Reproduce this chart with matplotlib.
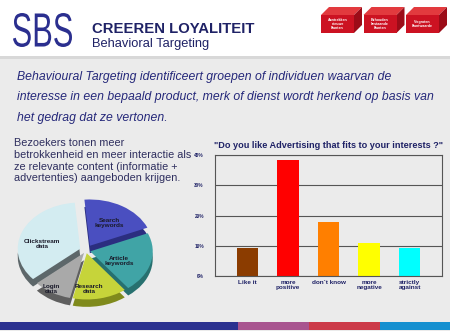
import numpy as np
import matplotlib.pyplot as plt
from matplotlib.patches import Rectangle, Polygon, PathPatch
from matplotlib.textpath import TextPath
from matplotlib.transforms import Affine2D
from matplotlib.font_manager import FontProperties

plt.rcParams['font.family'] = ['Liberation Sans', 'DejaVu Sans']

# --- bar chart data ---
categories = ['Like it', 'more\npositive', 'don`t know', 'more\nnegative', 'strictly\nagainst']
shares = [9.1, 38.3, 17.9, 10.8, 9.2]
bar_colors = ['#8b3c00', '#ff0000', '#ff7f00', '#ffff00', '#00ffff']
y_ticks = [0, 10, 20, 30, 40]
chart_title = '"Do you like Advertising that fits to your interests ?"'

# --- pie data (counter-clockwise from the top) ---
pie_labels = ['Clickstream\ndata', 'Login\ndata', 'Research\ndata', 'Article\nkeywords', 'Search\nkeywords']
pie_values = [35, 10, 14, 21, 20]
pie_colors = ['#d3ecf1', '#a9a9a9', '#c6d43a', '#40a4a6', '#4a4fc0']
pie_sides = ['#5d676a', '#5f5f5f', '#7f8a1c', '#27706f', '#2b2e80']
pie_explode = [0.1, 0.06, 0.06, 0.07, 0.12]
# label anchor points inside the pie (pie units)
label_xy = [(-0.70, 0.15), (-0.56, -0.83), (0.05, -0.83), (0.53, -0.22), (0.37, 0.59)]

# --- slide texts ---
header_boxes = ['Aantrekken\nnieuwe\nklanten', 'Behouden\nbestaande\nklanten', 'Vergroten\nklantwaarde']
intro_lines = ['Behavioural Targeting identificeert groepen of individuen waarvan de',
               'interesse in een bepaald product, merk of dienst wordt herkend op basis van',
               'het gedrag dat ze vertonen.']
side_lines = ['Bezoekers tonen meer',
              'betrokkenheid en meer interactie als',
              'ze relevante content (informatie +',
              'advertenties) aangeboden krijgen.']
stripe_colors = ['#2b3190', '#a8548f', '#cc3a48', '#1590d0']
stripe_edges = [0, 238, 309, 380, 450]

NAVY = '#1f2266'
W, H = 450, 331


def box(x0, y0, x1, y1):
    # pixel box (top-left origin) -> figure fraction rect
    return [x0 / W, 1 - y1 / H, (x1 - x0) / W, (y1 - y0) / H]


fig = plt.figure(figsize=(W / 100, H / 100), dpi=100, facecolor='#ebebeb')

# background / decoration layer in pixel coordinates
bg = fig.add_axes([0, 0, 1, 1], zorder=0)
bg.set_xlim(0, W)
bg.set_ylim(H, 0)
bg.axis('off')

bg.add_patch(Rectangle((0, 0), W, 56, color='white', lw=0))
bg.add_patch(Rectangle((0, 56), W, 3, color='#d8d8d8', lw=0))

# SBS logo squeezed into its box
tp = TextPath((0, 0), 'SBS', size=1, prop=FontProperties(family='Liberation Sans'))
bb = tp.get_extents()
tr = Affine2D().translate(-bb.x0, -bb.y0).scale(59 / bb.width, -34 / bb.height).translate(13, 47)
bg.add_patch(PathPatch(tr.transform_path(tp), fc='#2b2f8f', ec='none'))

bg.text(92, 33.3, 'CREEREN LOYALITEIT', fontsize=10.7, weight='bold', color=NAVY, va='baseline')
bg.text(92, 47, 'Behavioral Targeting', fontsize=9.3, color=NAVY, va='baseline')

# red 3D boxes top right
for i, txt in enumerate(header_boxes):
    x0 = 321 + i * 42.5
    bg.add_patch(Polygon([(x0, 15), (x0 + 33, 15), (x0 + 41, 7), (x0 + 8, 7)], color='#e23a3e', lw=0))
    bg.add_patch(Polygon([(x0 + 33, 15), (x0 + 41, 7), (x0 + 41, 25), (x0 + 33, 33)], color='#9c0c18', lw=0))
    bg.add_patch(Rectangle((x0, 15), 33, 18, color='#cc1222', lw=0))
    bg.text(x0 + 16.5, 24, txt, fontsize=2.6, color='white', weight='bold',
            ha='center', va='center', linespacing=1.0)

for k, line in enumerate(intro_lines):
    bg.text(17, 80 + k * 20.3, line, fontsize=8.85, style='italic', color='#25287a', va='baseline')

for k, line in enumerate(side_lines):
    bg.text(14, 146 + k * 11.8, line, fontsize=7.8, color='#2e2e5e', va='baseline')

for c, x0, x1 in zip(stripe_colors, stripe_edges[:-1], stripe_edges[1:]):
    bg.add_patch(Rectangle((x0, 321.5), x1 - x0, 8, color=c, lw=0))

# --- bar chart ---
ax = fig.add_axes(box(215, 155, 442, 276), zorder=1)
ax.set_facecolor('#ebebeb')
x = np.arange(len(categories))
ax.bar(x, shares, width=0.52, color=bar_colors, zorder=2)
ax.set_xlim(-0.8, 4.8)
ax.set_ylim(0, 40)
ax.set_yticks(y_ticks)
ax.set_yticklabels([f'{v}%' for v in y_ticks], fontsize=3.4, weight='bold', color=NAVY)
ax.set_xticks(x)
ax.set_xticklabels(categories, fontsize=4.6, weight='bold', color=NAVY, linespacing=1.05)
ax.tick_params(length=0)
ax.tick_params(axis='y', pad=8)
ax.tick_params(axis='x', pad=3)
ax.yaxis.grid(True, color='#555555', lw=0.8, zorder=1)
for s in ax.spines.values():
    s.set_color('#555555')
    s.set_linewidth(0.8)
ax.set_title(chart_title, fontsize=6.6, weight='bold', color=NAVY, pad=5)

# --- 3D-looking pie ---
pax = fig.add_axes(box(11, 195, 161, 306), zorder=1)
pax.pie(pie_values, colors=pie_sides, explode=pie_explode, startangle=95,
        center=(0, -0.16), wedgeprops=dict(lw=0))
wedges, _ = pax.pie(pie_values, colors=pie_colors, explode=pie_explode, startangle=95,
                    wedgeprops=dict(lw=0))
for lab, (lx, ly) in zip(pie_labels, label_xy):
    pax.text(lx, ly, lab, fontsize=4.6, weight='bold',
             color='#1a1a2a', ha='center', va='center', linespacing=1.0)
pax.set_aspect('auto')
pax.set_xlim(-1.2, 1.2)
pax.set_ylim(-1.2, 1.2)
pax.axis('off')

fig.savefig('out.png', dpi=100, facecolor=fig.get_facecolor())
